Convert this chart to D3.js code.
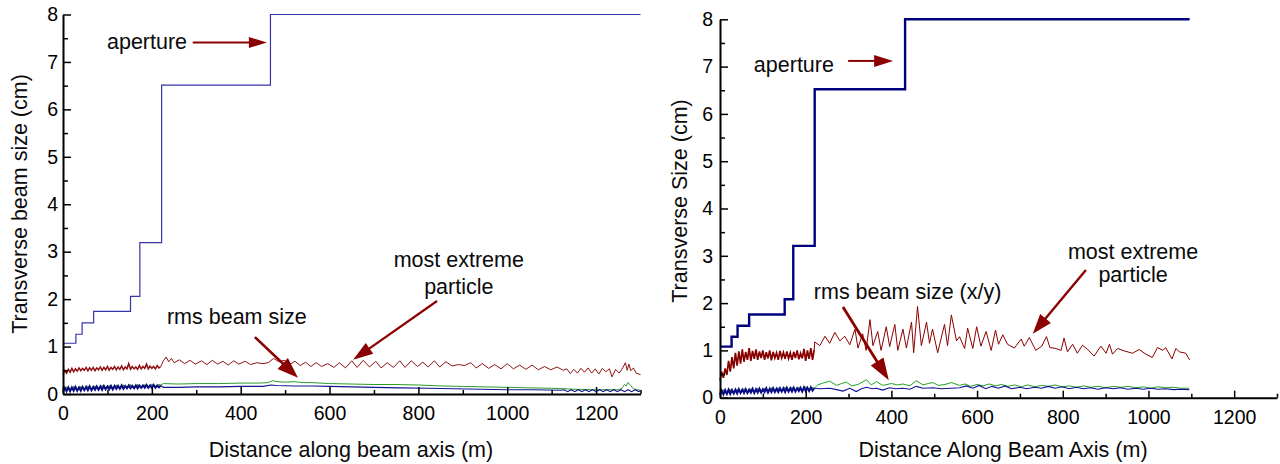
<!DOCTYPE html>
<html>
<head>
<meta charset="utf-8">
<script src="https://cdn.jsdelivr.net/npm/d3@7"></script>
<style>
	body { margin: 0; background: #fff; }
	svg { display: block; font-family: "Liberation Sans", Arial, sans-serif; }
	.axis path, .axis line { stroke: #000; }
	.axis .domain { stroke-width: 2; }
	.axis .tick line { stroke-width: 1.5; }
	.axis text { font-size: 19.5px; fill: #000; font-family: "Liberation Sans", Arial, sans-serif; }
	.label { font-size: 21.5px; fill: #0a0a0a; }
</style>
</head>
<body>
<svg id="chart" width="1280" height="464"></svg>
<script>
//---->DATA (distance in m, size in cm)<-----//
const xTicks = [0, 200, 400, 600, 800, 1000, 1200],
	xMinorTicks = [100, 300, 500, 700, 900, 1100, 1300],
	yTicks = [0, 1, 2, 3, 4, 5, 6, 7, 8],
	yMinorTicks = [0.5, 1.5, 2.5, 3.5, 4.5, 5.5, 6.5, 7.5];

// left panel
const leftAperture = [[0, 1.07], [29, 1.26], [43, 1.5], [69, 1.74], [152, 2.06], [173, 3.19], [222, 6.51], [467, 8.0], [1300, 8.0]];

const leftMaxDense = [[0, 0.40], [4, 0.50], [8, 0.44], [12, 0.52], [16, 0.46], [20, 0.54], [24, 0.47], [28, 0.53], [32, 0.48], [36, 0.55],
	[40, 0.49], [44, 0.54], [48, 0.50], [52, 0.56], [56, 0.49], [60, 0.55], [64, 0.50], [68, 0.56], [72, 0.49], [76, 0.55],
	[80, 0.51], [84, 0.57], [88, 0.50], [92, 0.56], [96, 0.51], [100, 0.58], [104, 0.50], [108, 0.56], [112, 0.52], [116, 0.58],
	[120, 0.51], [124, 0.57], [128, 0.52], [132, 0.59], [136, 0.51], [140, 0.57], [144, 0.53], [148, 0.64], [152, 0.52], [156, 0.58],
	[160, 0.53], [164, 0.57], [168, 0.52], [172, 0.60], [176, 0.53], [180, 0.58], [184, 0.54], [188, 0.63], [192, 0.53], [196, 0.59],
	[200, 0.54], [204, 0.58], [208, 0.53], [212, 0.60], [216, 0.55], [220, 0.58]];

const leftMaxSparse = [[220, 0.58], [226, 0.70], [232, 0.78], [238, 0.68], [244, 0.75], [250, 0.66], [262, 0.72], [274, 0.64], [286, 0.71], [298, 0.63],
	[312, 0.70], [324, 0.62], [336, 0.71], [348, 0.63], [360, 0.69], [372, 0.61], [384, 0.70], [396, 0.63], [410, 0.69], [422, 0.62],
	[436, 0.66], [450, 0.64], [462, 0.66], [474, 0.75], [486, 0.68], [498, 0.71], [510, 0.62], [522, 0.69], [534, 0.60], [546, 0.67],
	[558, 0.58], [570, 0.66], [582, 0.58], [596, 0.64], [610, 0.56], [622, 0.66], [636, 0.55], [650, 0.70], [662, 0.56], [676, 0.71],
	[690, 0.57], [704, 0.69], [716, 0.55], [730, 0.66], [744, 0.56], [758, 0.70], [770, 0.56], [784, 0.70], [798, 0.58], [810, 0.67],
	[822, 0.57], [836, 0.70], [848, 0.57], [862, 0.68], [876, 0.59], [890, 0.62], [904, 0.60], [918, 0.66], [930, 0.55], [944, 0.64],
	[958, 0.54], [972, 0.62], [986, 0.53], [1000, 0.64], [1014, 0.53], [1028, 0.61], [1042, 0.52], [1056, 0.61], [1070, 0.51],
	[1084, 0.58], [1098, 0.51], [1112, 0.57], [1126, 0.50], [1134, 0.53], [1142, 0.43], [1150, 0.52], [1158, 0.44], [1166, 0.54],
	[1174, 0.46], [1182, 0.55], [1190, 0.44], [1198, 0.53], [1206, 0.42], [1214, 0.54], [1222, 0.47], [1230, 0.53], [1236, 0.36],
	[1244, 0.52], [1252, 0.44], [1260, 0.55], [1266, 0.66], [1270, 0.50], [1274, 0.63], [1278, 0.49], [1284, 0.55], [1290, 0.44], [1300, 0.41]];

const leftGreenDense = [[0, 0.07], [8, 0.14], [16, 0.08], [24, 0.15], [32, 0.09], [40, 0.15], [48, 0.10], [56, 0.16], [64, 0.10], [72, 0.16],
	[80, 0.11], [88, 0.17], [96, 0.11], [104, 0.17], [112, 0.12], [120, 0.18], [128, 0.12], [136, 0.18], [144, 0.13], [152, 0.19],
	[160, 0.13], [168, 0.19], [176, 0.14], [184, 0.19], [192, 0.14], [200, 0.20], [208, 0.15], [216, 0.20]];

const leftGreenSparse = [[216, 0.20], [220, 0.19], [226, 0.22], [260, 0.21], [300, 0.22], [350, 0.22], [400, 0.23], [440, 0.23], [462, 0.24], [472, 0.28],
	[482, 0.26], [500, 0.25], [520, 0.26], [540, 0.24], [560, 0.24], [600, 0.22], [650, 0.21], [700, 0.20], [750, 0.20], [800, 0.19],
	[850, 0.17], [900, 0.16], [950, 0.15], [1000, 0.14], [1050, 0.13], [1100, 0.12], [1130, 0.11], [1150, 0.10], [1200, 0.09],
	[1250, 0.09], [1258, 0.12], [1264, 0.20], [1268, 0.17], [1272, 0.24], [1278, 0.18], [1284, 0.11], [1292, 0.09], [1300, 0.08]];

const leftBlueDense = [[0, 0.05], [4, 0.13], [8, 0.06], [12, 0.14], [16, 0.06], [20, 0.14], [24, 0.07], [28, 0.15], [32, 0.07], [36, 0.14],
	[40, 0.07], [44, 0.15], [48, 0.08], [52, 0.15], [56, 0.08], [60, 0.16], [64, 0.08], [68, 0.15], [72, 0.09], [76, 0.16],
	[80, 0.09], [84, 0.16], [88, 0.09], [92, 0.17], [96, 0.10], [100, 0.16], [104, 0.10], [108, 0.17], [112, 0.10], [116, 0.17],
	[120, 0.11], [124, 0.17], [128, 0.11], [132, 0.18], [136, 0.11], [140, 0.17], [144, 0.12], [148, 0.18], [152, 0.12], [156, 0.17],
	[160, 0.12], [164, 0.18], [168, 0.12], [172, 0.18], [176, 0.13], [180, 0.18], [184, 0.13], [188, 0.19], [192, 0.13], [196, 0.18],
	[200, 0.13], [204, 0.19], [208, 0.13], [212, 0.18], [216, 0.14], [220, 0.18]];

const leftBlueSparse = [[220, 0.18], [226, 0.14], [260, 0.14], [300, 0.15], [350, 0.15], [400, 0.16], [450, 0.16], [468, 0.19], [480, 0.18], [520, 0.17],
	[560, 0.17], [600, 0.16], [650, 0.15], [700, 0.14], [760, 0.13], [820, 0.12], [880, 0.11], [940, 0.10], [1000, 0.09], [1060, 0.09],
	[1120, 0.08], [1128, 0.09], [1136, 0.05], [1144, 0.09], [1152, 0.05], [1160, 0.09], [1168, 0.05], [1176, 0.09], [1184, 0.05],
	[1192, 0.09], [1200, 0.05], [1208, 0.09], [1216, 0.05], [1224, 0.09], [1232, 0.05], [1240, 0.09], [1248, 0.05], [1256, 0.09],
	[1264, 0.05], [1272, 0.09], [1280, 0.05], [1288, 0.09], [1296, 0.05], [1300, 0.07]];

// right panel
const rightAperture = [[0, 1.08], [27, 1.29], [41, 1.52], [68, 1.76], [151, 2.08], [171, 3.21], [221, 6.52], [432, 8.0], [1096, 8.0]];

const rightMaxDense = [[0, 0.36], [4, 0.55], [8, 0.42], [12, 0.62], [16, 0.48], [20, 0.78], [24, 0.55], [28, 0.86], [32, 0.62], [36, 0.95],
	[40, 0.68], [44, 0.98], [48, 0.72], [52, 1.02], [56, 0.76], [60, 0.97], [64, 0.80], [68, 1.05], [72, 0.78], [76, 0.99],
	[80, 0.82], [84, 1.02], [88, 0.80], [92, 0.98], [96, 0.84], [100, 1.00], [104, 0.80], [108, 0.96], [112, 0.83], [116, 1.00],
	[120, 0.79], [124, 0.97], [128, 0.84], [132, 0.95], [136, 0.80], [140, 0.99], [144, 0.84], [148, 0.96], [152, 0.82], [156, 0.98],
	[160, 0.83], [164, 0.95], [168, 0.80], [172, 0.97], [176, 0.84], [180, 1.00], [184, 0.81], [188, 0.94], [192, 0.83], [196, 1.03],
	[200, 0.78], [204, 1.00], [208, 0.82], [212, 1.05], [216, 0.80], [220, 1.02]];

const rightMaxSparse = [[220, 1.02], [221, 1.18], [233, 1.10], [245, 1.30], [256, 1.15], [268, 1.38], [280, 1.20], [291, 1.30], [303, 1.12], [315, 1.45],
	[322, 1.05], [333, 1.35], [341, 1.00], [350, 1.65], [357, 1.10], [368, 1.40], [376, 1.00], [388, 1.50], [396, 1.08], [408, 1.55],
	[415, 1.00], [427, 1.45], [435, 1.05], [447, 1.60], [452, 0.95], [461, 1.93], [470, 1.10], [482, 1.60], [489, 1.15], [496, 1.45],
	[508, 0.95], [524, 1.55], [531, 1.10], [540, 1.75], [552, 1.20], [559, 1.29], [571, 1.04], [578, 1.47], [590, 1.04], [599, 1.50],
	[609, 1.09], [621, 1.40], [633, 1.00], [643, 1.43], [650, 1.13], [660, 1.33], [671, 1.13], [687, 1.05], [703, 1.24], [710, 1.09],
	[722, 1.27], [737, 1.00], [751, 1.09], [762, 1.29], [770, 1.06], [784, 1.04], [796, 1.00], [803, 1.26], [811, 0.97], [823, 1.13],
	[834, 0.94], [846, 1.11], [858, 1.02], [873, 0.88], [889, 1.09], [901, 0.94], [909, 1.13], [916, 0.92], [928, 1.04], [943, 0.99],
	[963, 0.94], [978, 1.02], [994, 0.92], [1009, 0.85], [1021, 1.06], [1034, 1.00], [1040, 1.06], [1055, 0.82], [1064, 1.04],
	[1072, 0.97], [1087, 0.94], [1096, 0.80]];

const rightGreenDense = [[0, 0.08], [8, 0.16], [16, 0.09], [24, 0.17], [32, 0.10], [40, 0.17], [48, 0.11], [56, 0.18], [64, 0.11], [72, 0.18],
	[80, 0.12], [88, 0.19], [96, 0.12], [104, 0.19], [112, 0.13], [120, 0.20], [128, 0.13], [136, 0.20], [144, 0.14], [152, 0.21],
	[160, 0.14], [168, 0.21], [176, 0.15], [184, 0.21], [192, 0.15], [200, 0.22], [208, 0.15], [216, 0.22]];

const rightGreenSparse = [[216, 0.22], [220, 0.20], [228, 0.27], [240, 0.31], [256, 0.35], [272, 0.26], [284, 0.30], [295, 0.33], [307, 0.25], [322, 0.28],
	[342, 0.38], [353, 0.27], [365, 0.34], [380, 0.26], [400, 0.30], [414, 0.27], [427, 0.29], [443, 0.25], [458, 0.36], [474, 0.27],
	[486, 0.30], [497, 0.32], [510, 0.26], [525, 0.28], [540, 0.32], [559, 0.26], [572, 0.29], [585, 0.24], [600, 0.28], [614, 0.25],
	[628, 0.29], [643, 0.25], [657, 0.28], [672, 0.24], [688, 0.27], [703, 0.23], [718, 0.27], [735, 0.23], [750, 0.26], [766, 0.24],
	[782, 0.27], [798, 0.23], [815, 0.25], [832, 0.22], [848, 0.25], [865, 0.22], [882, 0.24], [900, 0.21], [918, 0.24], [935, 0.22],
	[952, 0.24], [970, 0.21], [988, 0.23], [1005, 0.20], [1022, 0.23], [1040, 0.21], [1058, 0.22], [1075, 0.20], [1095, 0.20]];

const rightBlueDense = [[0, 0.06], [4, 0.15], [8, 0.07], [12, 0.16], [16, 0.08], [20, 0.17], [24, 0.08], [28, 0.16], [32, 0.09], [36, 0.17],
	[40, 0.09], [44, 0.18], [48, 0.10], [52, 0.17], [56, 0.10], [60, 0.18], [64, 0.10], [68, 0.17], [72, 0.11], [76, 0.19],
	[80, 0.10], [84, 0.18], [88, 0.11], [92, 0.19], [96, 0.11], [100, 0.18], [104, 0.12], [108, 0.20], [112, 0.11], [116, 0.19],
	[120, 0.12], [124, 0.20], [128, 0.12], [132, 0.19], [136, 0.12], [140, 0.20], [144, 0.13], [148, 0.20], [152, 0.12], [156, 0.21],
	[160, 0.13], [164, 0.20], [168, 0.13], [172, 0.21], [176, 0.13], [180, 0.20], [184, 0.14], [188, 0.21], [192, 0.13], [196, 0.22],
	[200, 0.14], [204, 0.21], [208, 0.14], [212, 0.22], [216, 0.15], [220, 0.20]];

const rightBlueSparse = [[220, 0.20], [235, 0.19], [256, 0.20], [272, 0.17], [287, 0.14], [303, 0.20], [318, 0.13], [330, 0.19], [342, 0.22], [355, 0.19],
	[365, 0.20], [380, 0.16], [395, 0.21], [410, 0.19], [427, 0.20], [443, 0.18], [458, 0.24], [474, 0.20], [497, 0.21], [515, 0.19],
	[540, 0.20], [559, 0.21], [575, 0.25], [590, 0.20], [605, 0.26], [620, 0.19], [635, 0.24], [650, 0.20], [665, 0.25], [680, 0.19],
	[700, 0.22], [715, 0.19], [735, 0.22], [750, 0.20], [766, 0.24], [782, 0.20], [798, 0.23], [815, 0.19], [832, 0.22], [848, 0.19],
	[865, 0.21], [882, 0.18], [900, 0.21], [918, 0.19], [935, 0.21], [952, 0.18], [970, 0.20], [988, 0.18], [1005, 0.20], [1022, 0.18],
	[1040, 0.19], [1058, 0.17], [1075, 0.18], [1095, 0.17]];

const svg = d3.select('#chart');
const dark = '#8b0000';

const panels = [{
	xRange: [63, 640.5],
	yRange: [394, 14.5],
	yPad: 5,
	xTitle: 'Distance along beam axis (m)',
	yTitle: 'Transverse beam size (cm)',
	xTitlePos: [351, 450],
	yTitlePos: [20, 204],
	series: [
		{ data: leftAperture, color: '#3535a8', width: 1.2, step: true },
		{ data: leftGreenDense, color: '#2b9a2b', width: 1.4 },
		{ data: leftGreenSparse, color: '#2b9a2b', width: 1 },
		{ data: leftBlueDense, color: '#0a0a80', width: 2 },
		{ data: leftBlueSparse, color: '#141490', width: 1.1 },
		{ data: leftMaxDense, color: '#8e1010', width: 1.5 },
		{ data: leftMaxSparse, color: '#8e1414', width: 1 }
	],
	labels: [
		{ text: 'aperture', at: [99, 7.41], anchor: 'start' },
		{ text: 'rms beam size', at: [234, 1.62], anchor: 'start' },
		{ text: 'most extreme', at: [891, 2.82], anchor: 'middle' },
		{ text: 'particle', at: [891, 2.25], anchor: 'middle' }
	],
	arrows: [
		{ from: [292, 7.41], to: [459, 7.41], w: 1.8, len: 18, half: 5.5 },
		{ from: [432, 1.2], to: [529, 0.34], w: 2.6, len: 21, half: 7.5 },
		{ from: [842, 1.96], to: [653, 0.72], w: 2.2, len: 20, half: 6.5 }
	]
}, {
	xRange: [720, 1277],
	yRange: [397.7, 19.3],
	yPad: 7,
	xTitle: 'Distance Along Beam Axis (m)',
	yTitle: 'Transverse Size (cm)',
	xTitlePos: [1003, 450],
	yTitlePos: [680, 201],
	series: [
		{ data: rightAperture, color: '#00007f', width: 2.4, step: true },
		{ data: rightGreenDense, color: '#22a022', width: 1.4 },
		{ data: rightGreenSparse, color: '#22a022', width: 1 },
		{ data: rightBlueDense, color: '#0a0a88', width: 2 },
		{ data: rightBlueSparse, color: '#10109a', width: 1.1 },
		{ data: rightMaxDense, color: '#880000', width: 1.7 },
		{ data: rightMaxSparse, color: '#8b0000', width: 1 }
	],
	labels: [
		{ text: 'aperture', at: [79, 7.03], anchor: 'start' },
		{ text: 'rms beam size (x/y)', at: [219, 2.23], anchor: 'start' },
		{ text: 'most extreme', at: [964, 3.08], anchor: 'middle' },
		{ text: 'particle', at: [964, 2.59], anchor: 'middle' }
	],
	arrows: [
		{ from: [299, 7.12], to: [404, 7.12], w: 2, len: 19, half: 6 },
		{ from: [287, 1.92], to: [394, 0.37], w: 2.8, len: 22, half: 7.5 },
		{ from: [854, 2.7], to: [730, 1.35], w: 2.4, len: 20, half: 7 }
	]
}];

function arrow(g, x1, y1, x2, y2, a) {
	const ang = Math.atan2(y2 - y1, x2 - x1),
		bx = x2 - a.len * Math.cos(ang),
		by = y2 - a.len * Math.sin(ang),
		nx = -Math.sin(ang) * a.half,
		ny = Math.cos(ang) * a.half;

	g.append('line')
		.attr('x1', x1).attr('y1', y1)
		.attr('x2', bx + a.len * 0.3 * Math.cos(ang)).attr('y2', by + a.len * 0.3 * Math.sin(ang))
		.attr('stroke', dark)
		.attr('stroke-width', a.w);

	g.append('path')
		.attr('d', `M${x2},${y2}L${bx + nx},${by + ny}L${bx - nx},${by - ny}Z`)
		.attr('fill', dark);
}

function drawPanel(p) {
	const x = d3.scaleLinear().domain([0, 1300]).range(p.xRange),
		y = d3.scaleLinear().domain([0, 8]).range(p.yRange);

	const g = svg.append('g');

	// Lines
	p.series.forEach(s => {
		const line = d3.line()
			.x(d => x(d[0]))
			.y(d => y(d[1]))
			.curve(s.step ? d3.curveStepAfter : d3.curveLinear);

		g.append('path')
			.datum(s.data)
			.attr('d', line)
			.attr('fill', 'none')
			.attr('stroke', s.color)
			.attr('stroke-width', s.width)
			.attr('stroke-linejoin', 'miter');
	});

	// Axes
	g.append('g')
		.attr('class', 'axis')
		.attr('transform', `translate(0, ${y(0)})`)
		.call(d3.axisBottom(x).tickValues(xMinorTicks).tickSize(-4).tickSizeOuter(0).tickFormat(''))
		.select('.domain').remove();

	g.append('g')
		.attr('class', 'axis')
		.attr('transform', `translate(0, ${y(0)})`)
		.call(d3.axisBottom(x)
			.tickValues(xTicks)
			.tickSize(-7)
			.tickSizeOuter(0)
			.tickPadding(12)
			.tickFormat(d3.format('d'))
		);

	g.append('g')
		.attr('class', 'axis')
		.attr('transform', `translate(${x(0)}, 0)`)
		.call(d3.axisLeft(y).tickValues(yMinorTicks).tickSize(-5).tickSizeOuter(0).tickFormat(''))
		.select('.domain').remove();

	g.append('g')
		.attr('class', 'axis')
		.attr('transform', `translate(${x(0)}, 0)`)
		.call(d3.axisLeft(y)
			.tickValues(yTicks)
			.tickSize(-8)
			.tickSizeOuter(0)
			.tickPadding(p.yPad)
		);

	// Titles
	g.append('text')
		.attr('class', 'label')
		.attr('x', p.xTitlePos[0])
		.attr('y', p.xTitlePos[1])
		.attr('text-anchor', 'middle')
		.attr('dominant-baseline', 'central')
		.text(p.xTitle);

	g.append('text')
		.attr('class', 'label')
		.attr('transform', `translate(${p.yTitlePos[0]}, ${p.yTitlePos[1]}) rotate(-90)`)
		.attr('text-anchor', 'middle')
		.attr('dominant-baseline', 'central')
		.text(p.yTitle);

	// Annotations
	p.labels.forEach(l => {
		g.append('text')
			.attr('class', 'label')
			.attr('x', x(l.at[0]))
			.attr('y', y(l.at[1]))
			.attr('text-anchor', l.anchor)
			.attr('dominant-baseline', 'central')
			.text(l.text);
	});

	p.arrows.forEach(a => {
		arrow(g, x(a.from[0]), y(a.from[1]), x(a.to[0]), y(a.to[1]), a);
	});
}

panels.forEach(drawPanel);
</script>
</body>
</html>
